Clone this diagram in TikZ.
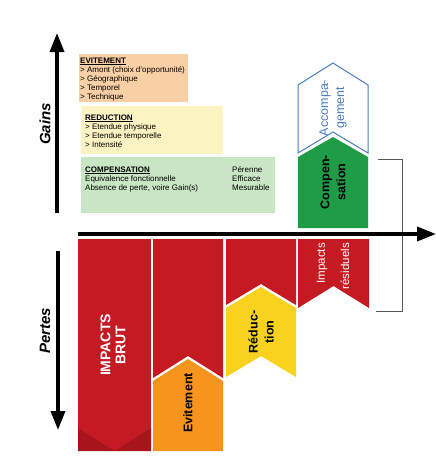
\documentclass[tikz,border=0pt]{standalone}
\usepackage{fontspec}
\setmainfont{Liberation Sans}
\usetikzlibrary{arrows.meta}
\definecolor{impactred}{HTML}{C41B23}
\definecolor{darkred}{HTML}{A8141C}
\definecolor{evitorange}{HTML}{F7941D}
\definecolor{reducyellow}{HTML}{F9D11F}
\definecolor{compgreen}{HTML}{1E9C48}
\definecolor{accblue}{HTML}{4A7DC0}
\definecolor{peach}{HTML}{F9CFA6}
\definecolor{paleyellow}{HTML}{FCF3C3}
\definecolor{palegreen}{HTML}{C8E6C4}

\begin{document}
\begin{tikzpicture}[x=1pt, y=-1pt,
  axis/.style={line width=3.6pt, -{Triangle[length=19pt, width=14pt]}},
  axislabel/.style={rotate=90, font=\fontsize{15}{17}\selectfont\bfseries\itshape},
  boxtext/.style={anchor=north west, inner sep=0pt, align=left, font=\fontsize{8}{9}\selectfont},
  coltext/.style={rotate=90, align=center, font=\fontsize{12.5}{16}\selectfont\bfseries},
  residtext/.style={rotate=90, anchor=east, inner sep=0pt, text=white, font=\fontsize{11.5}{13}\selectfont}
]
  \fill[white] (0,0) rectangle (436,469);
  \useasboundingbox (0,0) rectangle (436,469);

  % boxes of measures
  \fill[peach] (79,54) rectangle (188,102);
  \fill[paleyellow] (81,106) rectangle (223,154);
  \fill[palegreen] (81,157) rectangle (275,213);

  \node[boxtext] (evitxt) at (80,57.3) {\underline{\textbf{EVITEMENT}}\\> Amont (choix d'opportunité)\\> Géographique\\> Temporel\\> Technique};
  \node[boxtext] (redtxt) at (85,114.3) {\underline{\textbf{REDUCTION}}\\> Etendue physique\\> Etendue temporelle\\> Intensité};
  \node[boxtext] (comptxt) at (85,166.3) {\underline{\textbf{COMPENSATION}}\\Equivalence fonctionnelle\\Absence de perte, voire Gain(s)};
  \node[boxtext] (compcrit) at (232,166) {Pérenne\\Efficace\\Mesurable};

  % impact columns
  \fill[impactred] (78,239) rectangle (151,451);
  \fill[darkred] (78,428) -- (114.5,451) -- (78,451) -- cycle;
  \fill[darkred] (151,428) -- (114.5,451) -- (151,451) -- cycle;

  \fill[impactred] (153,239) -- (223,239) -- (223,378) -- (188,356) -- (153,378) -- cycle;
  \fill[evitorange] (153,381) -- (188,359) -- (223,381) -- (223,451) -- (153,451) -- cycle;

  \fill[impactred] (226,239) -- (296,239) -- (296,305) -- (261,284) -- (226,305) -- cycle;
  \fill[reducyellow] (226,308) -- (261,287) -- (296,308) -- (296,377) -- (261,356) -- (226,377) -- cycle;

  \fill[impactred] (298,239) -- (369,239) -- (369,308) -- (333.5,286) -- (298,308) -- cycle;

  \fill[compgreen] (298,157) -- (333,137) -- (368,157) -- (368,228) -- (298,228) -- cycle;
  \draw[accblue, line width=1pt] (298,85) -- (333,63) -- (368,85) -- (368,153) -- (333,132) -- (298,153) -- cycle;

  \draw[gray!70!black, line width=0.8pt] (378,159) -- (402,159) -- (402,311) -- (376,311);

  % axes
  \coordinate (gainsfoot) at (57,213);
  \coordinate (gainstip) at (57,33);
  \coordinate (pertesfoot) at (58,251);
  \coordinate (pertestip) at (58,430);
  \coordinate (axisstart) at (78,234);
  \coordinate (axisend) at (436,234);
  \draw[axis] (gainsfoot) -- (gainstip);
  \draw[axis] (pertesfoot) -- (pertestip);
  \draw[axis] (axisstart) -- (axisend);

  \node[axislabel] (gains) at (45,124) {Gains};
  \node[axislabel] (pertes) at (45,331) {Pertes};

  \node[coltext, text=white, font=\fontsize{14}{15}\selectfont\bfseries] (brut) at (113,345) {IMPACTS\\BRUT};
  \node[coltext] (evit) at (188,403) {Evitement};
  \node[coltext] (reduc) at (261,332) {Réduc-\\tion};
  \node[coltext] (compens) at (333,182) {Compen-\\sation};
  \node[coltext, text=accblue, font=\fontsize{12.5}{16}\selectfont] (accomp) at (333,108) {Accompa-\\gement};
  \node[residtext] (resid1) at (322,243) {Impacts};
  \node[residtext] (resid2) at (345,243) {résiduels};
\end{tikzpicture}
\end{document}
